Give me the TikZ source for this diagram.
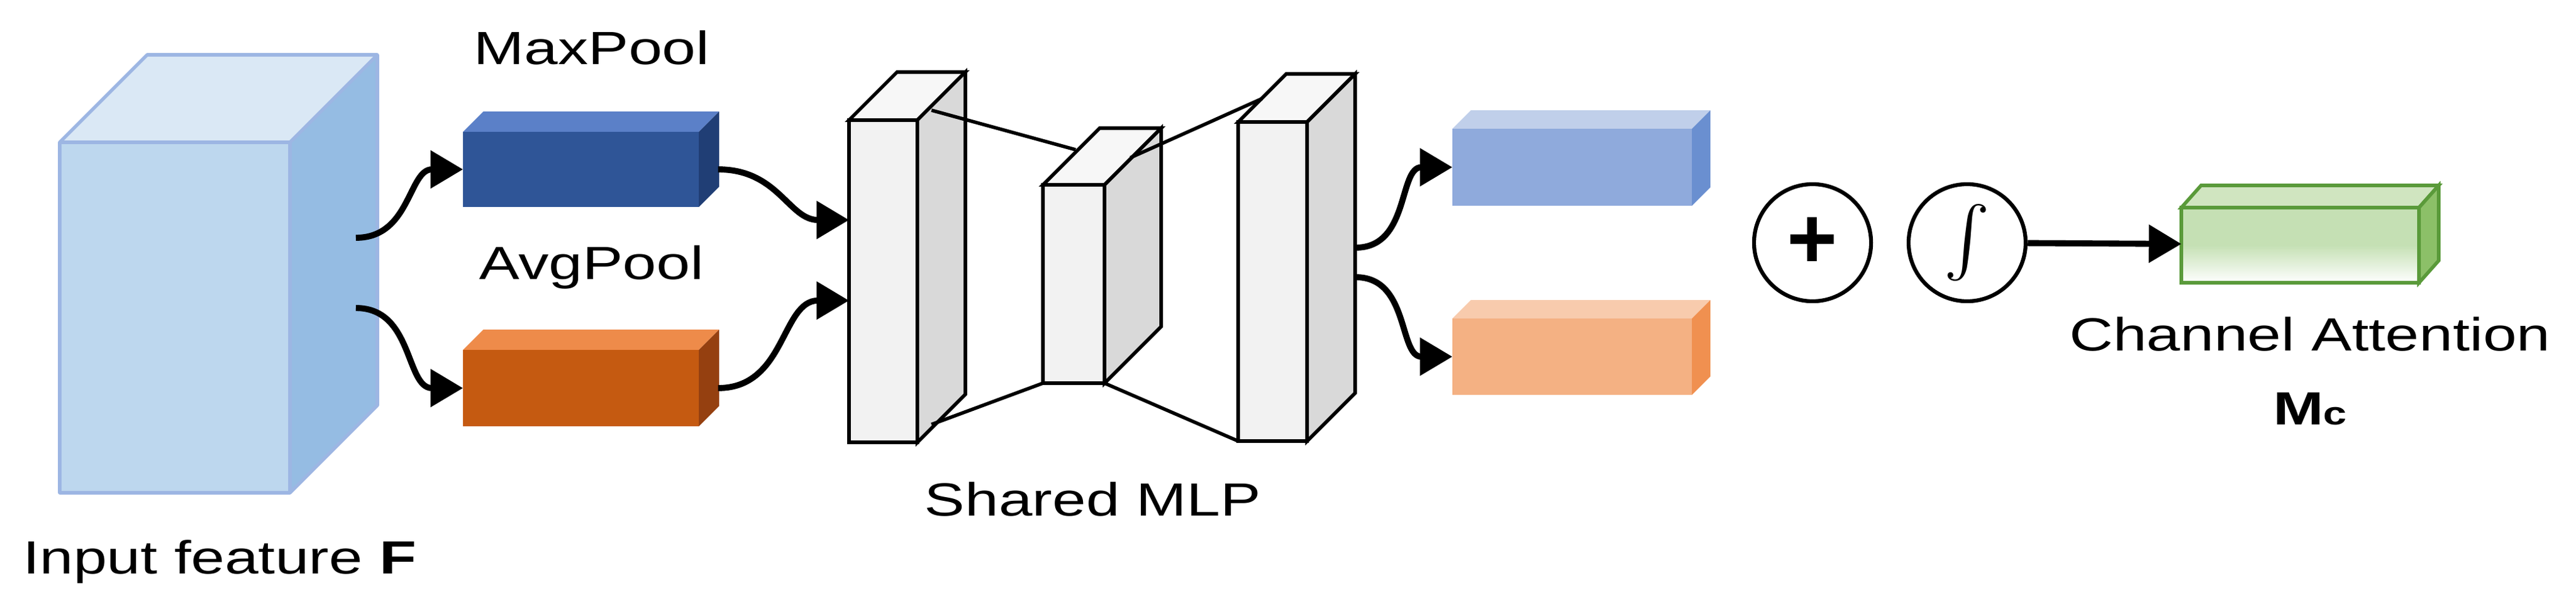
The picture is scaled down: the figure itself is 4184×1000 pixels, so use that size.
\documentclass[tikz,border=0pt]{standalone}
\usepackage{fontspec}
\setmainfont{Liberation Sans}
\usetikzlibrary{arrows.meta}
\definecolor{cbTop}{HTML}{DAE8F5}
\definecolor{cbSide}{HTML}{95BCE3}
\definecolor{cbFront}{HTML}{BDD7EE}
\definecolor{cbEdge}{HTML}{9DB6E3}
\definecolor{mxTop}{HTML}{5B80C8}
\definecolor{mxSide}{HTML}{203E75}
\definecolor{mxFront}{HTML}{2F5597}
\definecolor{avTop}{HTML}{EE8B4A}
\definecolor{avSide}{HTML}{954010}
\definecolor{avFront}{HTML}{C55A11}
\definecolor{mlTop}{HTML}{F7F7F7}
\definecolor{mlSide}{HTML}{D9D9D9}
\definecolor{mlFront}{HTML}{F2F2F2}
\definecolor{obTop}{HTML}{C0CFEA}
\definecolor{obSide}{HTML}{6A8FD0}
\definecolor{obFront}{HTML}{8FAADC}
\definecolor{ooTop}{HTML}{F8CBAD}
\definecolor{ooSide}{HTML}{F09050}
\definecolor{ooFront}{HTML}{F4B183}
\definecolor{gTop}{HTML}{D0E5C0}
\definecolor{gSide}{HTML}{8CC068}
\definecolor{gFront}{HTML}{C5E0B4}
\definecolor{gEdge}{HTML}{5A9A3A}
\newcommand\wide[1]{\scalebox{1.3}[1]{#1}}
\begin{document}
\begin{tikzpicture}[x=0.01cm,y=-0.01cm,
  conn/.style={line width=2.8pt,-{Triangle[length=15pt,width=17pt]}},
  mlp/.style={line width=1.6pt,line join=miter},
  lbl/.style={font=\fontsize{21.5}{24}\selectfont,inner sep=0pt},
  op/.style={circle,draw,line width=1.8pt,minimum size=1.9cm,inner sep=0pt}]
\useasboundingbox (0,0) rectangle (4184,1000);
\newcommand\mycub[9]{%
  \fill[#7] (#2,#3) -- ++(#6,#6*-1) -- ++(#4-#2,0) -- (#4,#3) -- cycle;
  \fill[#8] (#4,#3) -- ++(#6,#6*-1) -- ++(0,#5-#3) -- (#4,#5) -- cycle;
  \fill[#9] (#2,#3) rectangle (#4,#5);
  \coordinate (#1-w) at (#2,{(#3+#5)/2});
  \coordinate (#1-e) at (#4+#6*0.95,{(#3+#5)/2});}
% input cube
\mycub{inp}{97}{231}{471}{800}{142}{fill=cbTop}{fill=cbSide}{fill=cbFront}
\draw[color=cbEdge,line width=1.6pt,line join=round] (97,231) rectangle (471,800) (97,231) -- ++(142,-142) -- ++(374,0) -- (471,231) (613,89) -- (613,658) -- (471,800);
% pooled boxes
\mycub{max}{752}{214}{1135}{336}{33}{fill=mxTop}{fill=mxSide}{fill=mxFront}
\mycub{avg}{752}{568}{1135}{692}{33}{fill=avTop}{fill=avSide}{fill=avFront}
\node[lbl] (tmax) at (961,77) {\wide{MaxPool}};
\node[lbl] (tavg) at (961,434) {\wide{AvgPool}};
\node[lbl] (tin) at (357,912) {\wide{Input feature \textbf{F}}};
\coordinate (in1) at (578,386);
\coordinate (in2) at (578,500);
\draw[conn] (in1) to[out=0,in=180,looseness=1.1] (max-w);
\draw[conn] (in2) to[out=0,in=180,looseness=1.1] (avg-w);
% MLP
\newcommand\mlpcub[6]{%
  \draw[mlp,fill=mlTop] (#1,#2) -- ++(#5,-#5) -- ++(#3-#1,0) -- (#3,#2) -- cycle;
  \draw[mlp,fill=mlSide] (#3,#2) -- ++(#5,-#5) -- ++(0,#4-#2) -- (#3,#4) -- cycle;
  \draw[mlp,fill=mlFront] (#1,#2) rectangle (#3,#4);
  \coordinate (#6-w1) at (#1,{#2+(#4-#2)*0.31});
  \coordinate (#6-w2) at (#1,{#2+(#4-#2)*0.56});}
\mlpcub{1379}{195}{1490}{718}{78}{m1}
\mlpcub{1694}{300}{1794}{622}{92}{m2}
\mlpcub{2011}{198}{2123}{716}{78}{m3}
\coordinate (a1) at (1513,179); \coordinate (a2) at (1747,243);
\coordinate (b1) at (1836,256); \coordinate (b2) at (2050,160);
\coordinate (c1) at (1513,689); \coordinate (c2) at (1694,622);
\coordinate (d1) at (1794,622); \coordinate (d2) at (2011,716);
\draw[mlp] (a1) -- (a2) (b1) -- (b2) (c1) -- (c2) (d1) -- (d2);
\node[lbl] (tmlp) at (1775,810) {\wide{Shared MLP}};
\draw[conn] (max-e) to[out=0,in=180,looseness=1.1] (m1-w1);
\draw[conn] (avg-e) to[out=0,in=180,looseness=1.1] (m1-w2);
% outputs
\mycub{ob}{2359}{209}{2748}{334}{30}{fill=obTop}{fill=obSide}{fill=obFront}
\mycub{oo}{2359}{517}{2748}{641}{30}{fill=ooTop}{fill=ooSide}{fill=ooFront}
\coordinate (o1) at (2202,402);
\coordinate (o2) at (2202,450);
\draw[conn] (o1) to[out=0,in=180,looseness=1.1] (ob-w);
\draw[conn] (o2) to[out=0,in=180,looseness=1.1] (oo-w);
\node[op,font=\fontsize{40}{44}\selectfont\bfseries] (plus) at (2944,394) {+};
\node[op] (sig) at (3195,394) {\scalebox{3.2}{$\int$}};
% green
\fill[gTop,draw=gEdge,line width=1.6pt] (3543,337) -- ++(32,-36) -- ++(386,0) -- (3929,337) -- cycle;
\fill[gSide,draw=gEdge,line width=1.6pt] (3929,337) -- ++(32,-36) -- ++(0,122) -- (3929,459) -- cycle;
\shade[top color=gFront,bottom color=white,middle color=gFront] (3543,337) rectangle (3929,459);
\draw[gEdge,line width=1.6pt] (3543,337) rectangle (3929,459);
\coordinate (gw) at (3543,396);
\draw[conn] (sig) -- (gw);
\node[lbl] (tca) at (3752,542) {\wide{Channel Attention}};
\node[lbl] (tmc) at (3752,664) {\wide{\textbf{M}{\fontsize{15}{18}\selectfont\textbf{c}}}};
\end{tikzpicture}
\end{document}
